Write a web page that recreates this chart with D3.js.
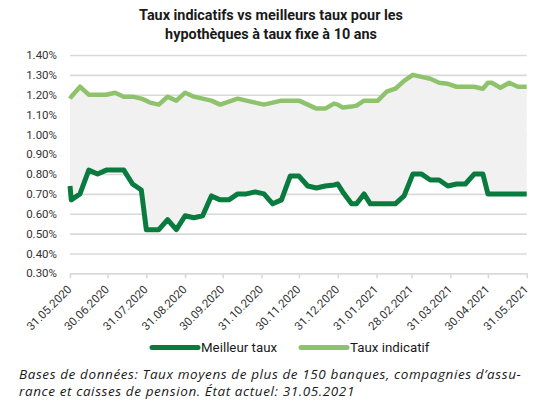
<!DOCTYPE html>
<html lang="fr">
  <head>
    <meta charset="UTF-8" />
    <script src="https://d3js.org/d3.v7.min.js"></script>
    <title>Taux hypothécaires</title>
    <style type="text/css">
      body {
        margin: 0;
        background: #fff;
      }
      text {
        font-family: Roboto, sans-serif;
        fill: #1a1a1a;
      }
      .title {
        font-size: 14.4px;
        font-weight: bold;
      }
      .tick text {
        font-size: 11.5px;
        fill: #333;
      }
      .legend-label {
        font-size: 13.3px;
      }
      .note {
        font-family: 'Open Sans', sans-serif;
        font-size: 13.5px;
        font-style: italic;
        letter-spacing: 0.6px;
      }
    </style>
  </head>
  <body>
    <svg width="539" height="402"></svg>
  </body>
  <script type="text/javascript">
    // data
    const dates = [
      '2020-05-31', '2020-06-01', '2020-06-08', '2020-06-15', '2020-06-22', '2020-06-29',
      '2020-07-06', '2020-07-13', '2020-07-20', '2020-07-27', '2020-07-31', '2020-08-03',
      '2020-08-10', '2020-08-17', '2020-08-24', '2020-08-31', '2020-09-07', '2020-09-14',
      '2020-09-21', '2020-09-28', '2020-10-05', '2020-10-12', '2020-10-19', '2020-10-26',
      '2020-11-02', '2020-11-09', '2020-11-16', '2020-11-23', '2020-11-30', '2020-12-07',
      '2020-12-14', '2020-12-21', '2020-12-28', '2020-12-31', '2021-01-04', '2021-01-11',
      '2021-01-15', '2021-01-21', '2021-01-26', '2021-02-01', '2021-02-08', '2021-02-15',
      '2021-02-22', '2021-03-01', '2021-03-08', '2021-03-15', '2021-03-22', '2021-03-29',
      '2021-04-05', '2021-04-12', '2021-04-19', '2021-04-26', '2021-04-30', '2021-05-03',
      '2021-05-10', '2021-05-17', '2021-05-24', '2021-05-31',
    ];
    const meilleurTaux = [
      0.74, 0.67, 0.7, 0.82, 0.8, 0.82,
      0.82, 0.82, 0.75, 0.72, 0.52, 0.52,
      0.52, 0.57, 0.52, 0.59, 0.58, 0.59,
      0.69, 0.67, 0.67, 0.7, 0.7, 0.71,
      0.7, 0.65, 0.67, 0.79, 0.79, 0.74,
      0.73, 0.74, 0.745, 0.75, 0.71, 0.65,
      0.65, 0.7, 0.65, 0.65, 0.65, 0.65,
      0.69, 0.8, 0.8, 0.77, 0.77, 0.74,
      0.75, 0.75, 0.8, 0.8, 0.7, 0.7,
      0.7, 0.7, 0.7, 0.7,
    ];
    const tauxIndicatif = [
      1.18, 1.19, 1.24, 1.2, 1.2, 1.2,
      1.21, 1.19, 1.19, 1.18, 1.17, 1.16,
      1.15, 1.19, 1.17, 1.21, 1.19, 1.18,
      1.17, 1.15, 1.165, 1.18, 1.17, 1.16,
      1.15, 1.16, 1.17, 1.17, 1.17, 1.15,
      1.13, 1.13, 1.155, 1.15, 1.135, 1.14,
      1.145, 1.17, 1.17, 1.17, 1.215, 1.23,
      1.27, 1.3, 1.29, 1.28, 1.26, 1.255,
      1.24, 1.24, 1.24, 1.23, 1.26, 1.26,
      1.235, 1.26, 1.24, 1.24,
    ];
    const yTicks = [0.3, 0.4, 0.5, 0.6, 0.7, 0.8, 0.9, 1.0, 1.1, 1.2, 1.3, 1.4];
    const xTicks = [
      '2020-05-31', '2020-06-30', '2020-07-31', '2020-08-31', '2020-09-30', '2020-10-31',
      '2020-11-30', '2020-12-31', '2021-01-31', '2021-02-28', '2021-03-31', '2021-04-30',
      '2021-05-31',
    ];
    const seriesNames = ['Meilleur taux', 'Taux indicatif'];
    const seriesColors = ['#0a7b3e', '#8ec36c'];
    const titleLines = ['Taux indicatifs vs meilleurs taux pour les', 'hypothèques à taux fixe à 10 ans'];
    const noteLines = [
      'Bases de données: Taux moyens de plus de 150 banques, compagnies d’assu-',
      'rance et caisses de pension. État actuel: 31.05.2021',
    ];

    // ---

    const parseDate = d3.timeParse('%Y-%m-%d');
    const formatDate = d3.timeFormat('%d.%m.%Y');
    const rows = dates.map((d, i) => ({
      date: parseDate(d),
      best: meilleurTaux[i],
      ind: tauxIndicatif[i],
    }));

    const plot = { left: 70, right: 526.7, top: 55, bottom: 273.3 };

    const svg = d3.select('svg');

    const xScale = d3
      .scaleTime()
      .domain([parseDate(xTicks[0]), parseDate(xTicks[xTicks.length - 1])])
      .range([plot.left, plot.right]);

    const yScale = d3.scaleLinear().domain([0.3, 1.4]).range([plot.bottom, plot.top]);

    // title
    svg
      .append('g')
      .selectAll('text')
      .data(titleLines)
      .enter()
      .append('text')
      .attr('class', 'title')
      .attr('x', 271)
      .attr('y', (d, i) => 20 + i * 19)
      .attr('text-anchor', 'middle')
      .text((d) => d);

    // grid + y labels
    const yAxisG = svg
      .append('g')
      .attr('transform', `translate(${plot.left}, 0)`)
      .call(
        d3
          .axisLeft(yScale)
          .tickValues(yTicks)
          .tickSize(-(plot.right - plot.left))
          .tickPadding(13)
          .tickFormat((d) => d.toFixed(2) + '%')
      );
    yAxisG.select('.domain').remove();
    yAxisG.selectAll('.tick line').attr('stroke', '#d9d9d9').attr('stroke-width', 1.6);

    // gray band between the two series
    svg
      .append('path')
      .datum(rows)
      .attr('fill', '#f1f1f1')
      .attr(
        'd',
        d3
          .area()
          .x((d) => xScale(d.date))
          .y0((d) => yScale(d.best))
          .y1((d) => yScale(d.ind))
      );

    // x axis
    const xAxisG = svg
      .append('g')
      .attr('transform', `translate(0, ${plot.bottom})`)
      .call(
        d3
          .axisBottom(xScale)
          .tickValues(xTicks.map(parseDate))
          .tickSize(5)
          .tickSizeOuter(0)
          .tickFormat(formatDate)
      );
    xAxisG.select('.domain').attr('stroke', '#d9d9d9').attr('stroke-width', 1.6);
    xAxisG.selectAll('.tick line').attr('stroke', '#d9d9d9').attr('stroke-width', 1.6);
    xAxisG
      .selectAll('.tick text')
      .attr('text-anchor', 'end')
      .attr('x', -10.6)
      .attr('y', 9.2)
      .attr('dy', '0.35em')
      .attr('transform', 'rotate(-45)');

    // lines
    const keys = ['best', 'ind'];
    const widths = [5, 4.5];
    [1, 0].forEach((k) => {
      svg
        .append('path')
        .datum(rows)
        .attr('fill', 'none')
        .attr('stroke', seriesColors[k])
        .attr('stroke-width', widths[k])
        .attr('stroke-linejoin', 'round')
        .attr(
          'd',
          d3
            .line()
            .x((d) => xScale(d.date))
            .y((d) => yScale(d[keys[k]]))
        );
    });

    // legend
    const legendX = [152, 301];
    const legend = svg
      .append('g')
      .selectAll('g')
      .data(seriesNames)
      .enter()
      .append('g')
      .attr('transform', (d, i) => `translate(${legendX[i]}, 347.5)`);
    legend
      .append('line')
      .attr('x1', 0)
      .attr('x2', 46)
      .attr('stroke', (d, i) => seriesColors[i])
      .attr('stroke-width', 5)
      .attr('stroke-linecap', 'round');
    legend
      .append('text')
      .attr('class', 'legend-label')
      .attr('x', 49)
      .attr('dy', '0.35em')
      .text((d) => d);

    // source note
    svg
      .append('g')
      .selectAll('text')
      .data(noteLines)
      .enter()
      .append('text')
      .attr('class', 'note')
      .attr('x', 19)
      .attr('y', (d, i) => 379 + i * 17)
      .text((d) => d);
  </script>
</html>
